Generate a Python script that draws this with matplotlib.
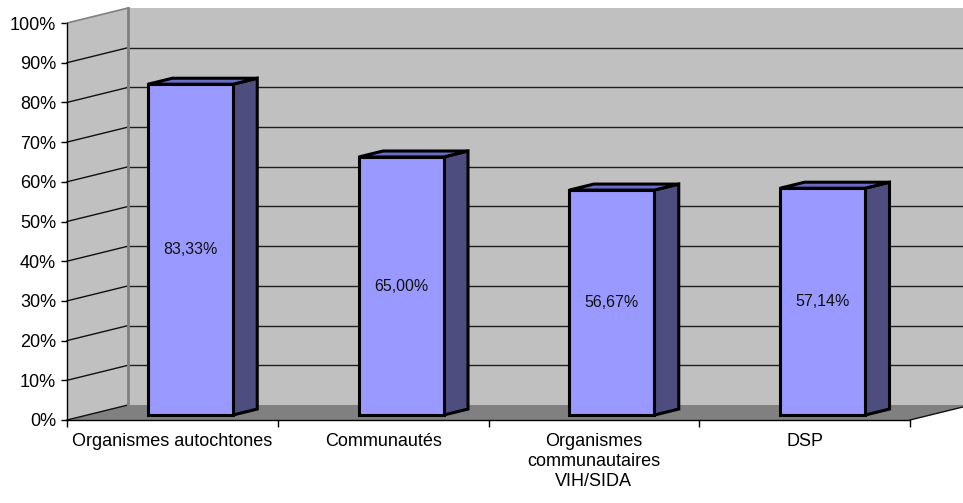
import matplotlib
matplotlib.use("Agg")
import matplotlib.pyplot as plt
from matplotlib.patches import Polygon

plt.rcParams['font.family'] = ['Liberation Sans', 'DejaVu Sans']

# data
categories = ['Organismes autochtones', 'Communautés',
              'Organismes\ncommunautaires\nVIH/SIDA', 'DSP']
values = [83.33, 65.00, 56.67, 57.14]
value_labels = ['83,33%', '65,00%', '56,67%', '57,14%']
yticks = list(range(0, 101, 10))

# fake 3d depth (in data units)
DX = 0.2894
DY = 3.78
F0, F1 = 0.33, 0.73     # bar front / back depth fractions
BW = 0.403

wall = '#C0C0C0'
floor_c = '#808080'
front_c = '#9999FF'
side_c = '#4D4D80'
top_c = '#6B6BC8'

W, H = 963, 503
fig = plt.figure(figsize=(W / 100, H / 100), dpi=100)
ax = fig.add_axes([67 / W, (H - 420) / H, 843 / W, 397 / H])
ax.set_xlim(0, 4)
ax.set_ylim(0, 100)
for s in ax.spines.values():
    s.set_visible(False)
ax.patch.set_alpha(0)

n = len(categories)

# back wall, left wall, floor
ax.add_patch(Polygon([(DX, DY), (n + DX, DY), (n + DX, 100 + DY), (DX, 100 + DY)],
                     closed=True, facecolor=wall, edgecolor='none', clip_on=False, zorder=1))
ax.add_patch(Polygon([(0, 0), (DX, DY), (DX, 100 + DY), (0, 100)],
                     closed=True, facecolor=wall, edgecolor='none', clip_on=False, zorder=1))
ax.add_patch(Polygon([(0, 0), (n, 0), (n + DX, DY), (DX, DY)],
                     closed=True, facecolor=floor_c, edgecolor='none', clip_on=False, zorder=1))

# gridlines
for y in yticks[1:-1]:
    ax.plot([DX, n + DX], [y + DY, y + DY], color='#202020', lw=1, zorder=2, clip_on=False)
for y in yticks:
    col = '#808080' if y == 100 else '#101010'
    ax.plot([0, DX], [y, y + DY], color=col, lw=1.2 if y == 100 else 1, zorder=2, clip_on=False)
ax.plot([DX, DX], [DY, 100 + DY], color='#808080', lw=2, zorder=2, clip_on=False)
ax.plot([n, n + DX], [0, DY], color='#101010', lw=1, zorder=2, clip_on=False)

# axes lines
ax.plot([0, 0], [0, 100], color='black', lw=1, zorder=3, clip_on=False)
ax.plot([0, n], [0, 0], color='black', lw=1, zorder=3, clip_on=False)

# bars
for i, v in enumerate(values):
    x0 = i + 0.49 - BW / 2
    x1 = x0 + BW
    fx0, fx1 = x0 + F0 * DX, x1 + F0 * DX
    by0, by1 = F0 * DY, v + F0 * DY
    ddx = (F1 - F0) * DX
    ddy = (F1 - F0) * DY
    kw = dict(closed=True, edgecolor='black', lw=2.2, joinstyle='miter', clip_on=False, zorder=4)
    ax.add_patch(Polygon([(fx1, by0), (fx1 + ddx, by0 + ddy), (fx1 + ddx, by1 + ddy), (fx1, by1)],
                         facecolor=side_c, **kw))
    ax.add_patch(Polygon([(fx0, by1), (fx1, by1), (fx1 + ddx, by1 + ddy), (fx0 + ddx, by1 + ddy)],
                         facecolor=top_c, **kw))
    ax.add_patch(Polygon([(fx0, by0), (fx1, by0), (fx1, by1), (fx0, by1)],
                         facecolor=front_c, **kw))
    ax.text((fx0 + fx1) / 2, (by0 + by1) / 2, value_labels[i], ha='center', va='center',
            fontsize=11.5, color='#111111', zorder=5)

# ticks
ax.set_yticks(yticks)
ax.set_yticklabels([f'{y}%' for y in yticks])
ax.tick_params(axis='y', length=4.3, width=1, pad=3.6, labelsize=13, direction='out')
ax.set_xticks([i + 0.5 for i in range(n)])
ax.set_xticklabels(categories, linespacing=1.25)
ax.set_xticks(range(n + 1), minor=True)
ax.tick_params(axis='x', which='major', length=0, pad=9, labelsize=13)
ax.tick_params(axis='x', which='minor', length=5, width=1, direction='out')

fig.savefig('out.png', dpi=100)
